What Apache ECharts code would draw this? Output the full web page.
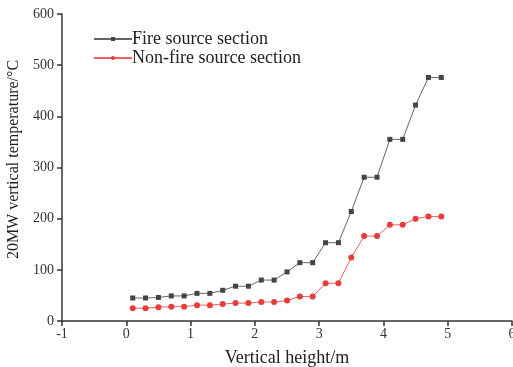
<!DOCTYPE html>
<html>
<head>
<meta charset="utf-8">
<script src="https://cdn.jsdelivr.net/npm/echarts@6/dist/echarts.min.js"></script>
<style>
html, body { margin: 0; padding: 0; background: #fff; }
#chart { width: 513px; height: 367px; }
</style>
</head>
<body>
<div id="chart"></div>
<script>
// Measurement heights (m)
const heights = [0.1, 0.3, 0.5, 0.7, 0.9, 1.1, 1.3, 1.5, 1.7, 1.9, 2.1, 2.3, 2.5,
                 2.7, 2.9, 3.1, 3.3, 3.5, 3.7, 3.9, 4.1, 4.3, 4.5, 4.7, 4.9];
// Temperatures (°C) for a 20 MW fire
const fireSection = [45, 45, 46, 49, 49, 54, 54, 60, 68, 68, 80, 80, 96,
                     114, 114, 153, 153, 214, 281, 281, 355, 355, 422, 476, 476];
const nonFireSection = [25, 25, 27, 28, 28, 31, 31, 33, 35, 35, 37, 37, 40,
                        48, 48, 74, 74, 124, 166, 166, 188, 188, 200, 204, 204];
const seriesNames = ['Fire source section', 'Non-fire source section'];

const font = '"Liberation Serif", "Times New Roman", serif';
const pairs = (ys) => heights.map((h, i) => [h, ys[i]]);

const chart = echarts.init(document.getElementById('chart'), null, { renderer: 'canvas' });
chart.setOption({
  animation: false,
  backgroundColor: '#fff',
  grid: { left: 62, top: 14, right: 1, bottom: 46, containLabel: false, outerBoundsMode: 'none' },
  legend: {
    left: 88, top: 25, orient: 'vertical',
    itemWidth: 38, itemHeight: 5, itemGap: 1,
    textStyle: { fontFamily: font, fontSize: 18, color: '#222', padding: [0, 0, 0, -5] },
    data: seriesNames
  },
  xAxis: {
    type: 'value', min: -1, max: 6, interval: 1,
    name: 'Vertical height/m', nameLocation: 'middle', nameGap: 28,
    nameTextStyle: { fontFamily: font, fontSize: 18, color: '#222' },
    axisLine: { onZero: false, lineStyle: { color: '#333', width: 1.5 } },
    axisTick: { inside: false, length: 5, lineStyle: { color: '#333', width: 1.5 } },
    axisLabel: { fontFamily: font, fontSize: 14, color: '#333', margin: 6 },
    splitLine: { show: false }
  },
  yAxis: {
    type: 'value', min: 0, max: 600, interval: 100,
    name: '20MW vertical temperature/°C', nameLocation: 'middle', nameGap: 40,
    nameTextStyle: { fontFamily: font, fontSize: 16, color: '#222', padding: [0, 0, 0, 16] },
    axisLine: { show: true, onZero: false, lineStyle: { color: '#333', width: 1.5 } },
    axisTick: { show: true, inside: false, length: 5, lineStyle: { color: '#333', width: 1.5 } },
    axisLabel: { fontFamily: font, fontSize: 14, color: '#333', margin: 8 },
    splitLine: { show: false }
  },
  series: [
    {
      name: seriesNames[0], type: 'line', data: pairs(fireSection),
      symbol: 'rect', symbolSize: 5,
      lineStyle: { color: '#666', width: 1 },
      itemStyle: { color: '#444' }
    },
    {
      name: seriesNames[1], type: 'line', data: pairs(nonFireSection),
      symbol: 'circle', symbolSize: 6,
      lineStyle: { color: '#f06060', width: 1 },
      itemStyle: { color: '#e83c3c' }
    }
  ]
});
</script>
</body>
</html>
